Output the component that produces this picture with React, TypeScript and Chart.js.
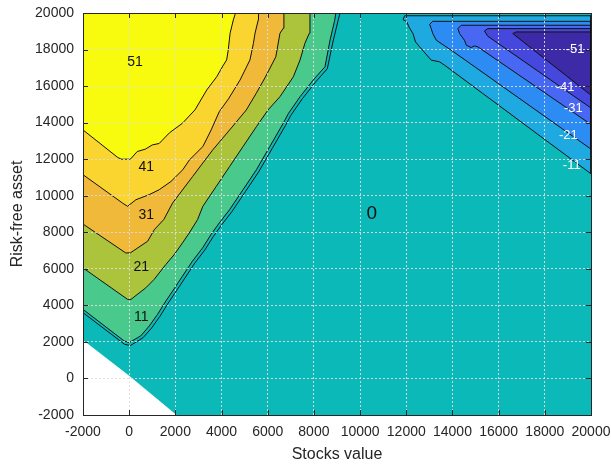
import React, { useEffect, useRef } from "react";
import { Chart, registerables } from "chart.js";

Chart.register(...registerables);

type P = [number, number];

const X_TICKS = [-2000, 0, 2000, 4000, 6000, 8000, 10000, 12000, 14000, 16000, 18000, 20000];
const Y_TICKS = [-2000, 0, 2000, 4000, 6000, 8000, 10000, 12000, 14000, 16000, 18000, 20000];
const X_MIN = -2000;
const X_MAX = 20000;
const Y_MIN = -2000;
const Y_MAX = 20000;

// Positive contour lines (left edge -> top edge)
const C51: P[] = [
  [-2000, 13600], [-500, 12100], [-350, 12000], [50, 12000], [350, 12420], [700, 12550],
  [1000, 12780], [1300, 12860], [1750, 13450], [2300, 13960], [2850, 14700], [3360, 15790],
  [3790, 16510], [4080, 17150], [4220, 17430], [4290, 17975], [4370, 18890], [4510, 19620],
  [4580, 19900], [4600, 20000],
];
const C41: P[] = [
  [-2000, 11150], [-290, 9600], [-70, 9420], [290, 9780], [870, 10060], [1300, 10330],
  [1810, 10780], [2320, 11420], [2610, 11960], [3190, 12690], [3550, 13600], [3900, 14600],
  [4300, 15300], [4800, 16330], [5230, 17430], [5380, 18340], [5450, 18890], [5590, 19620],
  [5600, 20000],
];
const C31: P[] = [
  [-2000, 8450], [-150, 6870], [50, 6870], [800, 7510], [1090, 8145], [1500, 8700],
  [1880, 9600], [2750, 11055], [3620, 12510], [4350, 13600], [5070, 14690], [5500, 15600],
  [5900, 16500], [6350, 17600], [6530, 18890], [6670, 19160], [6700, 20000],
];
const C21: P[] = [
  [-2000, 6050], [-70, 4330], [80, 4330], [720, 4960], [1080, 5420], [1590, 6240],
  [1950, 6780], [2310, 7420], [2600, 7960], [2960, 8690], [3190, 9420], [3770, 10510],
  [4350, 11600], [4930, 12690], [5510, 13780], [6010, 14690], [6530, 15420], [7110, 16510],
  [7400, 17430], [7610, 18340], [7800, 18890], [7830, 20000],
];
const C11: P[] = [
  [-2000, 3780], [-220, 2055], [0, 1960], [500, 2330], [870, 2870], [1230, 3510],
  [1590, 4240], [1880, 4780], [2310, 5600], [2740, 6420], [3180, 7145], [3540, 7870],
  [3900, 8510], [4350, 9240], [4930, 10330], [5510, 11420], [6090, 12690], [6670, 13960],
  [6900, 14510], [7400, 15420], [7970, 16330], [8480, 17060], [8700, 18520], [8900, 19600],
  [8950, 20000],
];
const C1: P[] = [
  [-2000, 3600], [-200, 1870], [50, 1800], [600, 2230], [970, 2760], [1330, 3400],
  [1690, 4130], [1980, 4670], [2410, 5490], [2840, 6310], [3280, 7040], [3640, 7760],
  [4000, 8400], [4450, 9130], [5030, 10220], [5610, 11310], [6190, 12580], [6770, 13850],
  [7000, 14400], [7500, 15310], [8070, 16220], [8580, 16950], [8830, 18450], [9050, 19600],
  [9130, 20000],
];

// Negative regions (closed outlines)
const N11: P[] = [
  [11930, 19850], [20000, 19850], [20000, 11200], [13660, 17145], [13440, 17330],
  [13080, 17420], [12580, 18145], [12400, 18420], [12290, 18870], [12115, 19236],
  [12030, 19510], [11860, 19640],
];
const N21: P[] = [
  [13150, 19545], [20000, 19545], [20000, 12550], [14020, 17900], [13510, 18330],
  [13300, 18510], [13150, 18870], [13080, 19145], [13010, 19382],
];
const N31: P[] = [
  [14378, 19330], [20000, 19330], [20000, 13900], [15100, 18145], [14950, 18200],
  [14810, 18110], [14600, 18236], [14520, 18510], [14310, 18870], [14234, 19145],
];
const N41: P[] = [
  [15531, 19145], [20000, 19145], [20000, 14800], [15531, 18727], [15387, 19018],
];
const N51: P[] = [
  [16757, 18964], [20000, 18964], [20000, 15500], [16612, 18873],
];

// Undefined (blank) region
const BLANK: P[] = [[-2000, -2000], [-2000, 2100], [0, 150], [2050, -2000]];

const LABEL_TEXT = ["51", "41", "31", "21", "11", "0", "-51", "-41", "-31", "-21", "-11"];
const LABEL_X = [252, 742, 742, 525, 525, 10503, 19308, 18875, 19235, 19018, 19165];
const LABEL_Y = [17300, 11550, 8944, 6114, 3377, 9037, 18013, 15933, 14784, 13322, 11680];
const LABEL_SIZE = [14, 14, 14, 14, 14, 19, 13, 13, 13, 13, 13];
const LABEL_COLOR = ["#111", "#111", "#111", "#111", "#111", "#111", "#fff", "#fff", "#fff", "#fff", "#fff"];

const COL_BG = "#0bbab8";
const COL_P11 = "#49c98b";
const COL_P21 = "#abc43b";
const COL_P31 = "#f0b93a";
const COL_P41 = "#fad42f";
const COL_P51 = "#f9fb0f";
const COL_N11 = "#1fa9e1";
const COL_N21 = "#2d8cf3";
const COL_N31 = "#4868f3";
const COL_N41 = "#4547dd";
const COL_N51 = "#3d2aa6";

const FONT = "'Liberation Sans', Arial, Helvetica, sans-serif";
const AXIS_COLOR = "#262626";

const toXY = (pts: P[]) => pts.map(([x, y]) => ({ x, y }));

export default function App() {
  const ref = useRef<HTMLCanvasElement | null>(null);

  useEffect(() => {
    if (!ref.current) return;
    const seq: any[] = [];
    const fillSet = (pts: P[], color: string) =>
      seq.push({
        data: toXY(pts),
        showLine: true,
        fill: "shape",
        backgroundColor: color,
        borderColor: "transparent",
        borderWidth: 0,
        pointRadius: 0,
      });
    const lineSet = (pts: P[]) =>
      seq.push({
        data: toXY(pts),
        showLine: true,
        fill: false,
        borderColor: "#111",
        borderWidth: 1,
        pointRadius: 0,
      });
    const topLeft: P = [X_MIN, Y_MAX];
    fillSet([[X_MIN, Y_MIN], [X_MAX, Y_MIN], [X_MAX, Y_MAX], [X_MIN, Y_MAX]], COL_BG);
    fillSet([topLeft, ...C11], COL_P11);
    fillSet([topLeft, ...C21], COL_P21);
    fillSet([topLeft, ...C31], COL_P31);
    fillSet([topLeft, ...C41], COL_P41);
    fillSet([topLeft, ...C51], COL_P51);
    fillSet(N11, COL_N11);
    fillSet(N21, COL_N21);
    fillSet(N31, COL_N31);
    fillSet(N41, COL_N41);
    fillSet(N51, COL_N51);
    [C1, C11, C21, C31, C41, C51].forEach(lineSet);
    [N11, N21, N31, N41, N51].forEach((n) => lineSet([...n, n[0]]));
    fillSet(BLANK, "#ffffff");
    const datasets = seq.map((d, i) => ({ ...d, order: -i }));

    const boxPlugin = {
      id: "boxAndLabels",
      afterDraw(chart: any) {
        const { ctx, chartArea } = chart;
        const { left, right, top, bottom } = chartArea;
        const xs = chart.scales.x;
        const ys = chart.scales.y;
        ctx.save();
        ctx.strokeStyle = AXIS_COLOR;
        ctx.lineWidth = 1;
        ctx.beginPath();
        X_TICKS.forEach((v) => {
          const px = Math.round(xs.getPixelForValue(v)) + 0.5;
          ctx.moveTo(px, bottom);
          ctx.lineTo(px, bottom - 5);
          ctx.moveTo(px, top);
          ctx.lineTo(px, top + 5);
        });
        Y_TICKS.forEach((v) => {
          const py = Math.round(ys.getPixelForValue(v)) + 0.5;
          ctx.moveTo(left, py);
          ctx.lineTo(left + 5, py);
          ctx.moveTo(right, py);
          ctx.lineTo(right - 5, py);
        });
        ctx.stroke();
        ctx.strokeRect(Math.round(left) + 0.5, Math.round(top) + 0.5, Math.round(right - left), Math.round(bottom - top));
        ctx.textAlign = "center";
        ctx.textBaseline = "middle";
        LABEL_TEXT.forEach((t, i) => {
          ctx.fillStyle = LABEL_COLOR[i];
          ctx.font = `${LABEL_SIZE[i]}px ${FONT}`;
          ctx.fillText(t, xs.getPixelForValue(LABEL_X[i]), ys.getPixelForValue(LABEL_Y[i]));
        });
        ctx.restore();
      },
    };

    const tickFont = { family: FONT, size: 14 };
    const chart = new Chart(ref.current, {
      type: "scatter",
      data: { datasets },
      options: {
        animation: false,
        responsive: false,
        events: [],
        layout: { padding: { top: 13, right: 20, left: 0, bottom: 0 } },
        plugins: { legend: { display: false }, tooltip: { enabled: false } },
        scales: {
          x: {
            type: "linear",
            min: X_MIN,
            max: X_MAX,
            afterBuildTicks: (s: any) => {
              s.ticks = X_TICKS.map((v) => ({ value: v }));
            },
            afterFit: (s: any) => {
              s.height = 51;
              s.paddingLeft = 0;
              s.paddingRight = 0;
            },
            grid: { z: 1, drawTicks: false, color: "rgba(222,222,222,0.9)", lineWidth: 1 },
            border: { display: false, dash: [2, 2] },
            ticks: {
              color: AXIS_COLOR,
              font: tickFont,
              padding: 9,
              autoSkip: false,
              maxRotation: 0,
              callback: (v: any) => String(v),
            },
            title: {
              display: true,
              text: "Stocks value",
              color: AXIS_COLOR,
              font: { family: FONT, size: 16 },
              padding: { top: 0, bottom: 2 },
            },
          },
          y: {
            type: "linear",
            min: Y_MIN,
            max: Y_MAX,
            afterBuildTicks: (s: any) => {
              s.ticks = Y_TICKS.map((v) => ({ value: v }));
            },
            afterFit: (s: any) => {
              s.width = 83;
              s.paddingTop = 0;
              s.paddingBottom = 0;
            },
            grid: { z: 1, drawTicks: false, color: "rgba(222,222,222,0.9)", lineWidth: 1 },
            border: { display: false, dash: [2, 2] },
            ticks: {
              color: AXIS_COLOR,
              font: tickFont,
              padding: 9,
              autoSkip: false,
              callback: (v: any) => String(v),
            },
            title: {
              display: true,
              text: "Risk-free asset",
              color: AXIS_COLOR,
              font: { family: FONT, size: 16 },
              padding: { top: 8, bottom: 0 },
            },
          },
        },
      },
      plugins: [boxPlugin],
    } as any);
    return () => chart.destroy();
  }, []);

  return (
    <div style={{ position: "absolute", left: 0, top: 0, width: 611, height: 466, background: "#fff" }}>
      <canvas ref={ref} width={611} height={466} style={{ width: 611, height: 466, display: "block" }} />
    </div>
  );
}
